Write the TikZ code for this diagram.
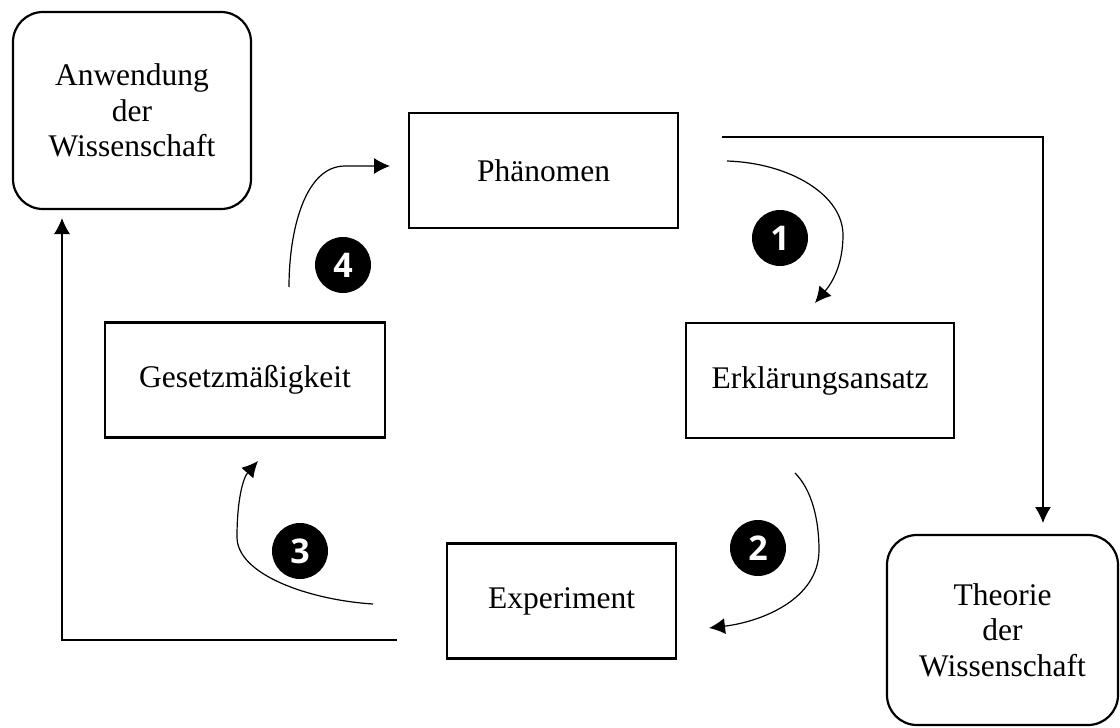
\documentclass[tikz,border=0pt]{standalone}
\usepackage{fontspec}
\setmainfont{Liberation Serif}
\newfontfamily\zahlfont{Open Sans}
\usetikzlibrary{arrows.meta}

\begin{document}
\begin{tikzpicture} [x = 0.5pt, y = -0.5pt,
  kasten/.style = {draw, line width = 1.4pt, minimum height = 57.5pt, font = \fontsize{15.75}{17.75}\selectfont},
  rundkasten/.style = {draw, line width = 1.1pt, rounded corners = 15pt, align = center, font = \fontsize{15.75}{17.75}\selectfont},
  nummer/.style = {circle, fill = black, text = white, minimum size = 28pt, inner sep = 0pt, font = \zahlfont\bfseries\fontsize{17}{17}\selectfont},
  pfeil/.style = {line width = 0.6pt, -{Latex[length = 8pt, width = 8pt]}}]

\useasboundingbox (0, 0) rectangle (1120, 728);

\node[rundkasten, minimum width = 119pt, minimum height = 98.5pt] (anw) at (132, 110.5){Anwendung\\der\\Wissenschaft};
\node[rundkasten, minimum width = 115.5pt, minimum height = 95pt] (theo) at (1002.5, 630){Theorie\\der\\Wissenschaft};
\node[kasten, minimum width = 134.5pt] (phen) at (543.5, 170.5){Phänomen};
\node[kasten, minimum width = 134pt] (erkl) at (820, 380.5){Erklärungsansatz};
\node[kasten, minimum width = 140pt] (gesetz) at (245, 380){Gesetzmäßigkeit};
\node[kasten, minimum width = 114.5pt] (exp) at (561.5, 601){Experiment};

\node[nummer] (n1) at (780, 238){1};\node[nummer] (n2) at (758, 548){2};
\node[nummer] (n3) at (300, 551){3};\node[nummer] (n4) at (343, 265){4};

\coordinate (obenA) at (722, 137);\coordinate (obenB) at (1043, 523);
\coordinate (untenA) at (397, 640);\coordinate (untenB) at (62, 218);
\coordinate (b1a) at (727, 161);\coordinate (b1b) at (815, 303);
\coordinate (b2a) at (795, 473);\coordinate (b2b) at (709, 628);
\coordinate (b3a) at (373, 604);\coordinate (b3b) at (258, 461);
\coordinate (b4a) at (289, 287);\coordinate (b4b) at (390, 166);

\draw[pfeil] (obenA) -| (obenB);
\draw[pfeil] (untenA) -| (untenB);
\draw[pfeil] (b1a) .. controls (790, 163) and (843, 195) .. (843, 235) .. controls (843, 265) and (832, 283) .. (b1b);
\draw[pfeil] (b2a) .. controls (812, 490) and (819, 520) .. (819, 550) .. controls (819, 600) and (760, 622) .. (b2b);
\draw[pfeil] (b3a) .. controls (310, 600) and (237, 575) .. (237, 537) .. controls (237, 500) and (243, 478) .. (b3b);
\draw[pfeil] (b4a) .. controls (289, 230) and (305, 166) .. (345, 166) -- (b4b);
\end{tikzpicture}
\end{document}
